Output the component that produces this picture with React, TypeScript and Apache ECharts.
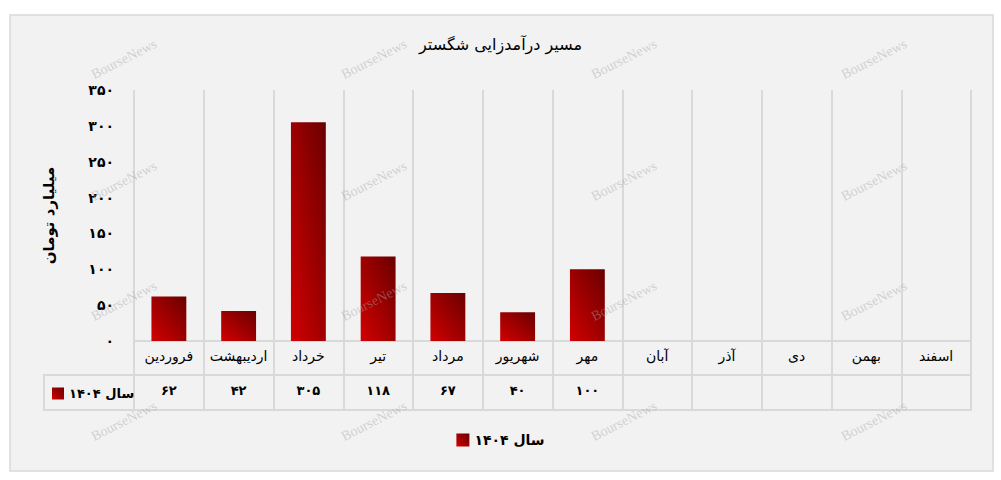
import React, { useEffect, useRef } from "react";
import * as echarts from "echarts";

const chartTitle = "مسیر درآمدزایی شگستر";
const yAxisName = "میلیارد تومان";
const seriesName = "سال ۱۴۰۴";
const categories = ["فروردین", "اردیبهشت", "خرداد", "تیر", "مرداد", "شهریور", "مهر", "آبان", "آذر", "دی", "بهمن", "اسفند"];
const values: (number | null)[] = [62, 42, 305, 118, 67, 40, 100, null, null, null, null, null];
const yMin = 0;
const yMax = 350;
const yStep = 50;
const watermarkText = "BourseNews";
const watermarkCols = [124, 374, 624, 874];
const watermarkRows = [59, 181, 301, 421];

const FA_DIGITS = "۰۱۲۳۴۵۶۷۸۹";
const toFa = (v: number | string) => String(v).replace(/\d/g, (d) => FA_DIGITS[+d]);

const FONT = "'DejaVu Sans', sans-serif";
const LINE = "#d9d9d9";

export default function App() {
  const ref = useRef<HTMLDivElement>(null);

  useEffect(() => {
    if (!ref.current) return;
    const chart = echarts.init(ref.current, null, { renderer: "svg" });

    const barGradient = new echarts.graphic.LinearGradient(0, 1, 1, 0, [
      { offset: 0, color: "#d20000" },
      { offset: 1, color: "#6a0000" },
    ]);

    const watermarks: any[] = [];
    watermarkRows.forEach((y) =>
      watermarkCols.forEach((x) =>
        watermarks.push({
          type: "text",
          x,
          y,
          rotation: (27 * Math.PI) / 180,
          z: 100,
          silent: true,
          style: {
            text: watermarkText,
            fill: "rgba(165,165,165,0.45)",
            font: "14px 'Liberation Serif', 'DejaVu Serif', serif",
            align: "center",
            verticalAlign: "middle",
          },
        })
      )
    );

    chart.setOption({
      animation: false,
      backgroundColor: "#ffffff",
      textStyle: { fontFamily: FONT },
      title: {
        text: chartTitle,
        left: "center",
        top: 36,
        padding: 0,
        textStyle: { fontFamily: FONT, fontSize: 16, fontWeight: "normal", color: "#000" },
      },
      legend: [
        {
          data: [seriesName],
          left: "center",
          top: 433,
          padding: 0,
          icon: "rect",
          itemWidth: 13,
          itemHeight: 13,
          itemGap: 6,
          textStyle: { fontFamily: FONT, fontSize: 14, fontWeight: "bold", color: "#000" },
        },
        {
          data: [seriesName],
          left: 52,
          top: 387,
          padding: 0,
          icon: "rect",
          itemWidth: 12,
          itemHeight: 12,
          textStyle: { fontFamily: FONT, fontSize: 13, fontWeight: "bold", color: "#000" },
        },
      ],
      grid: { left: 134, right: 30, top: 90, bottom: 139, containLabel: false },
      xAxis: [
        {
          type: "category",
          data: categories,
          position: "bottom",
          boundaryGap: true,
          axisLine: { show: true, lineStyle: { color: LINE, width: 2 } },
          axisTick: { show: true, interval: 0, length: 69, lineStyle: { color: LINE, width: 2 } },
          splitLine: { show: true, interval: 0, lineStyle: { color: LINE, width: 2 } },
          axisLabel: { interval: 0, margin: 8, fontFamily: FONT, fontSize: 14, color: "#000" },
        },
        {
          type: "category",
          data: categories,
          position: "bottom",
          offset: 34,
          axisLine: { show: true, lineStyle: { color: LINE, width: 2 } },
          axisTick: { show: false },
          splitLine: { show: false },
          axisLabel: {
            interval: 0,
            margin: 9,
            fontFamily: FONT,
            fontSize: 13,
            fontWeight: "bold",
            color: "#000",
            formatter: (_: string, i: number) => (values[i] == null ? "" : toFa(values[i] as number)),
          },
        },
        {
          type: "category",
          data: categories,
          position: "bottom",
          offset: 69,
          axisLine: { show: true, lineStyle: { color: LINE, width: 2 } },
          axisTick: { show: false },
          splitLine: { show: false },
          axisLabel: { show: false },
        },
      ],
      yAxis: {
        type: "value",
        min: yMin,
        max: yMax,
        interval: yStep,
        name: yAxisName,
        nameLocation: "middle",
        nameGap: 78,
        nameTextStyle: { fontFamily: FONT, fontSize: 15, fontWeight: "bold", color: "#000" },
        axisLine: { show: false },
        axisTick: { show: false },
        splitLine: { show: false },
        axisLabel: {
          margin: 20,
          fontFamily: FONT,
          fontSize: 14,
          fontWeight: "bold",
          color: "#000",
          padding: [0, 0, 7, 0],
          formatter: (v: number) => toFa(v),
        },
      },
      series: [
        {
          name: seriesName,
          type: "bar",
          xAxisIndex: 0,
          data: values,
          barWidth: "50%",
          itemStyle: { color: barGradient },
        },
      ],
      graphic: [
        {
          type: "rect",
          z: -100,
          silent: true,
          shape: { x: 10, y: 15, width: 983, height: 456 },
          style: { fill: "#f2f2f2", stroke: LINE, lineWidth: 1.5 },
        },
        {
          type: "polyline",
          z: 1,
          silent: true,
          shape: { points: [[135, 375], [44, 375], [44, 410], [135, 410]] },
          style: { fill: null, stroke: LINE, lineWidth: 2 },
        },
        ...watermarks,
      ],
    });

    return () => chart.dispose();
  }, []);

  return <div ref={ref} style={{ position: "fixed", left: 0, top: 0, width: 1001, height: 480 }} />;
}
